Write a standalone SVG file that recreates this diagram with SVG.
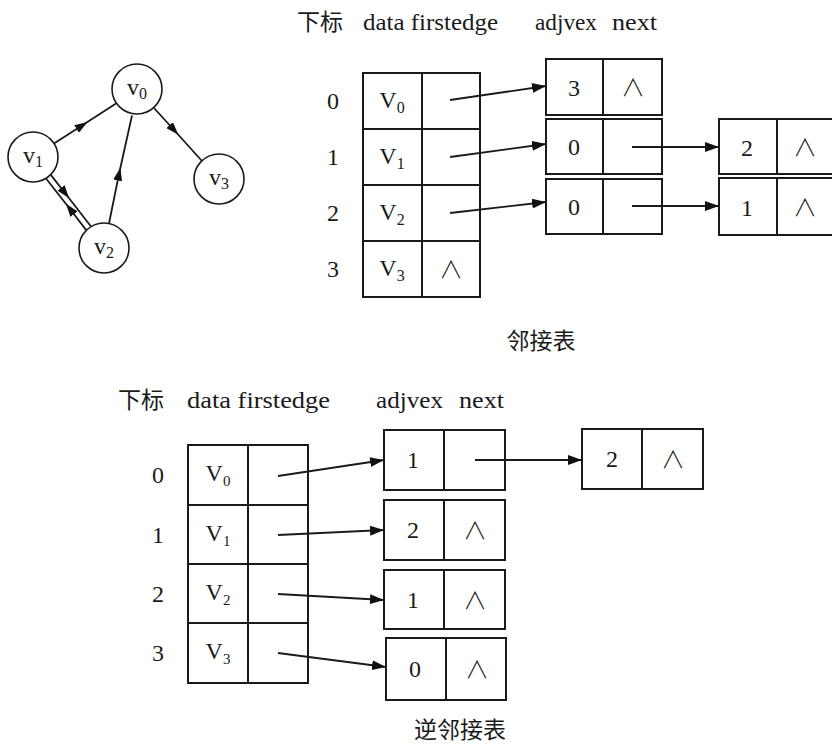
<svg xmlns="http://www.w3.org/2000/svg" width="832" height="746" viewBox="0 0 832 746">
<defs>
<style>
.ln{stroke:#1a1a1a;stroke-width:1.8;fill:none}
.bx{stroke:#1a1a1a;stroke-width:2;fill:#fff}
.c{stroke:#1a1a1a;stroke-width:1.6;fill:#fff}
.t{font-family:"Liberation Serif","Times New Roman",serif;fill:#1a1a1a;font-size:24px;text-anchor:middle}
.h{font-family:"Liberation Serif","Noto Sans CJK SC",serif;fill:#1a1a1a;font-size:23px}
.cj{font-family:"Noto Sans CJK SC","Liberation Serif",serif;fill:#1a1a1a;font-size:23px}
.and{font-family:"Noto Sans CJK SC","DejaVu Sans",sans-serif;font-weight:300;fill:#1a1a1a;font-size:24px;text-anchor:middle}
</style>
<marker id="ah" viewBox="0 0 14 10" refX="14" refY="5" markerWidth="14" markerHeight="10" markerUnits="userSpaceOnUse" orient="auto"><path d="M0,0 L14,5 L0,10 z" fill="#111"/></marker>
<marker id="am" viewBox="0 0 13 9" refX="6.5" refY="4.5" markerWidth="13" markerHeight="9" markerUnits="userSpaceOnUse" orient="auto"><path d="M0,0 L13,4.5 L0,9 z" fill="#111"/></marker>
</defs>
<rect width="832" height="746" fill="#fff"/>

<!-- graph -->
<g id="connectors-graph">
<path class="ln" d="M54,143.5 L82,125.5 L116,103.5" marker-mid="url(#am)"/>
<path class="ln" d="M154,108 L174,130 L202,161" marker-mid="url(#am)"/>
<path class="ln" d="M109,223.5 L119,174 L132,115.5" marker-mid="url(#am)"/>
<path class="ln" d="M50.8,174.9 L65,193 L91,226.5" marker-mid="url(#am)"/>
<path class="ln" d="M86.2,230.1 L70,209 L46,178.5" marker-mid="url(#am)"/>
</g>
<g id="v0"><circle class="c" cx="137" cy="89" r="25"/><text class="t" x="137" y="95">v<tspan font-size="16" dy="4">0</tspan></text></g>
<g id="v1"><circle class="c" cx="33" cy="157" r="25"/><text class="t" x="33" y="163">v<tspan font-size="16" dy="4">1</tspan></text></g>
<g id="v2"><circle class="c" cx="104" cy="248" r="25"/><text class="t" x="104" y="254">v<tspan font-size="16" dy="4">2</tspan></text></g>
<g id="v3"><circle class="c" cx="219" cy="179" r="25"/><text class="t" x="219" y="185">v<tspan font-size="16" dy="4">3</tspan></text></g>

<!-- top adjacency list -->
<g id="top-header">
<text class="cj" x="297" y="30">下标</text>
<text class="h" x="363" y="30" textLength="135" lengthAdjust="spacingAndGlyphs">data firstedge</text>
<text class="h" x="535" y="30" textLength="62" lengthAdjust="spacingAndGlyphs">adjvex</text>
<text class="h" x="612" y="30" textLength="45" lengthAdjust="spacingAndGlyphs">next</text>
</g>
<g id="top-index">
<text class="t" x="333" y="109">0</text>
<text class="t" x="333" y="165">1</text>
<text class="t" x="333" y="221">2</text>
<text class="t" x="333" y="277">3</text>
</g>
<g id="top-vertex-table">
<rect class="bx" x="363" y="73" width="117" height="224"/>
<line class="bx" x1="422" y1="73" x2="422" y2="297"/>
<line class="bx" x1="363" y1="129" x2="480" y2="129"/>
<line class="bx" x1="363" y1="185" x2="480" y2="185"/>
<line class="bx" x1="363" y1="241" x2="480" y2="241"/>
<text class="t" x="392" y="108">V<tspan font-size="16" dy="5">0</tspan></text>
<text class="t" x="392" y="164">V<tspan font-size="16" dy="5">1</tspan></text>
<text class="t" x="392" y="220">V<tspan font-size="16" dy="5">2</tspan></text>
<text class="t" x="392" y="276">V<tspan font-size="16" dy="5">3</tspan></text>
<text class="and" x="451" y="278">∧</text>
</g>
<g id="top-e0"><rect class="bx" x="546" y="59" width="116" height="56"/><line class="bx" x1="603" y1="59" x2="603" y2="115"/><text class="t" x="574" y="96">3</text><text class="and" x="633" y="96">∧</text></g>
<g id="top-e1"><rect class="bx" x="546" y="119" width="116" height="55"/><line class="bx" x1="603" y1="119" x2="603" y2="174"/><text class="t" x="574" y="155">0</text></g>
<g id="top-e2"><rect class="bx" x="546" y="179" width="116" height="55"/><line class="bx" x1="603" y1="179" x2="603" y2="234"/><text class="t" x="574" y="215">0</text></g>
<g id="top-e1b"><rect class="bx" x="719" y="119" width="130" height="55"/><line class="bx" x1="777" y1="119" x2="777" y2="174"/><text class="t" x="747" y="156">2</text><text class="and" x="805" y="156">∧</text></g>
<g id="top-e2b"><rect class="bx" x="719" y="178" width="130" height="57"/><line class="bx" x1="777" y1="178" x2="777" y2="235"/><text class="t" x="747" y="216">1</text><text class="and" x="805" y="216">∧</text></g>
<g id="connectors-top">
<line class="ln" x1="450" y1="100" x2="546" y2="86" marker-end="url(#ah)"/>
<line class="ln" x1="450" y1="157" x2="546" y2="144" marker-end="url(#ah)"/>
<line class="ln" x1="450" y1="213" x2="546" y2="202" marker-end="url(#ah)"/>
<line class="ln" x1="632" y1="147" x2="719" y2="147" marker-end="url(#ah)"/>
<line class="ln" x1="632" y1="206" x2="719" y2="206" marker-end="url(#ah)"/>
</g>
<text class="cj" x="541" y="349" font-size="24" text-anchor="middle">邻接表</text>

<!-- bottom inverse adjacency list -->
<g id="bottom-header">
<text class="cj" x="118" y="408">下标</text>
<text class="h" x="187" y="408" textLength="143" lengthAdjust="spacingAndGlyphs">data firstedge</text>
<text class="h" x="376" y="408" textLength="67" lengthAdjust="spacingAndGlyphs">adjvex</text>
<text class="h" x="459" y="408" textLength="45" lengthAdjust="spacingAndGlyphs">next</text>
</g>
<g id="bottom-index">
<text class="t" x="158" y="483">0</text>
<text class="t" x="158" y="543">1</text>
<text class="t" x="158" y="602">2</text>
<text class="t" x="158" y="661">3</text>
</g>
<g id="bottom-vertex-table">
<rect class="bx" x="188" y="445" width="120" height="238"/>
<line class="bx" x1="248" y1="445" x2="248" y2="683"/>
<line class="bx" x1="188" y1="505" x2="308" y2="505"/>
<line class="bx" x1="188" y1="564" x2="308" y2="564"/>
<line class="bx" x1="188" y1="623" x2="308" y2="623"/>
<text class="t" x="218" y="481" font-size="22">V<tspan font-size="15" dy="5">0</tspan></text>
<text class="t" x="218" y="541" font-size="22">V<tspan font-size="15" dy="5">1</tspan></text>
<text class="t" x="218" y="600" font-size="22">V<tspan font-size="15" dy="5">2</tspan></text>
<text class="t" x="218" y="659" font-size="22">V<tspan font-size="15" dy="5">3</tspan></text>
</g>
<g id="bot-e0"><rect class="bx" x="384" y="430" width="121" height="60"/><line class="bx" x1="444" y1="430" x2="444" y2="490"/><text class="t" x="413" y="468">1</text></g>
<g id="bot-e1"><rect class="bx" x="384" y="500" width="121" height="60"/><line class="bx" x1="444" y1="500" x2="444" y2="560"/><text class="t" x="413" y="538">2</text><text class="and" x="475" y="539">∧</text></g>
<g id="bot-e2"><rect class="bx" x="384" y="570" width="121" height="59"/><line class="bx" x1="444" y1="570" x2="444" y2="629"/><text class="t" x="413" y="608">1</text><text class="and" x="475" y="609">∧</text></g>
<g id="bot-e3"><rect class="bx" x="386" y="638" width="120" height="62"/><line class="bx" x1="446" y1="638" x2="446" y2="700"/><text class="t" x="415" y="677">0</text><text class="and" x="477" y="678">∧</text></g>
<g id="bot-e0b"><rect class="bx" x="582" y="429" width="121" height="60"/><line class="bx" x1="642" y1="429" x2="642" y2="489"/><text class="t" x="612" y="467">2</text><text class="and" x="673" y="468">∧</text></g>
<g id="connectors-bottom">
<line class="ln" x1="278" y1="476" x2="384" y2="460" marker-end="url(#ah)"/>
<line class="ln" x1="278" y1="535" x2="384" y2="530" marker-end="url(#ah)"/>
<line class="ln" x1="278" y1="594" x2="384" y2="600" marker-end="url(#ah)"/>
<line class="ln" x1="278" y1="653" x2="386" y2="667" marker-end="url(#ah)"/>
<line class="ln" x1="475" y1="460" x2="582" y2="460" marker-end="url(#ah)"/>
</g>
<text class="cj" x="460" y="738" font-size="24" text-anchor="middle">逆邻接表</text>
</svg>
